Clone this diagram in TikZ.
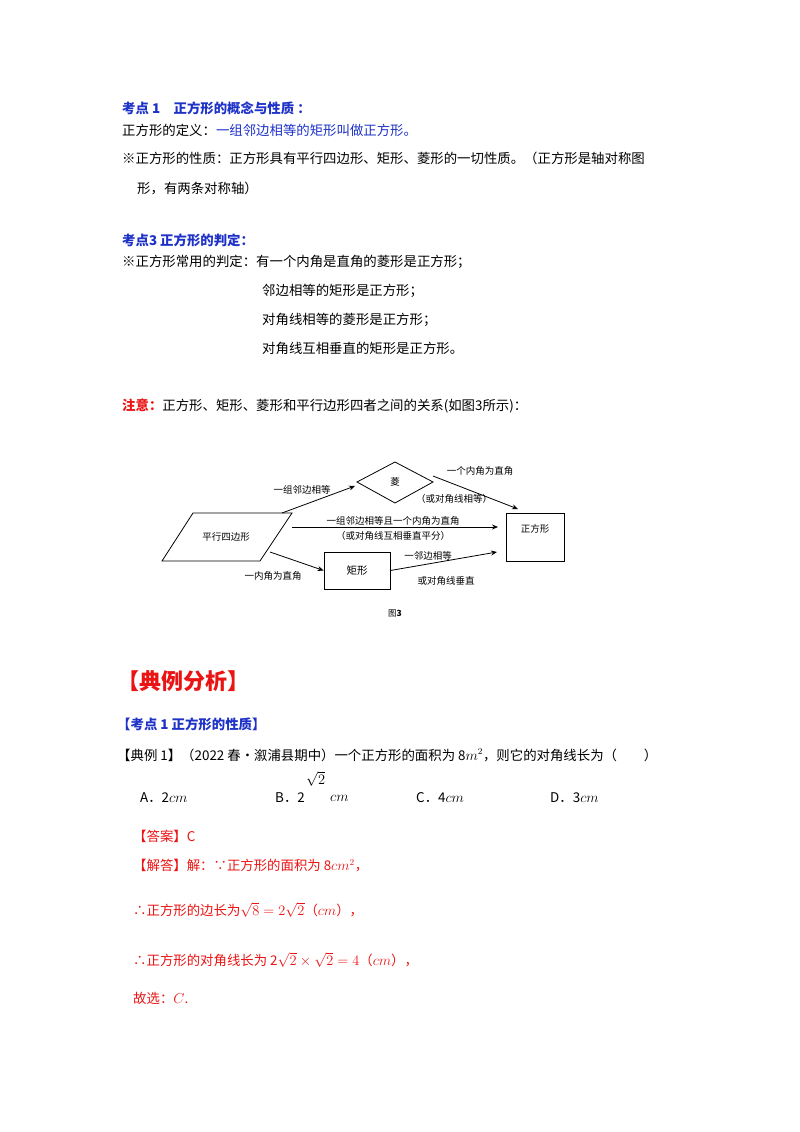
\documentclass[tikz,border=0pt]{standalone}
\usepackage{fontspec}
\setmainfont{Liberation Serif}
\newfontfamily\cjk{Noto Sans CJK SC}
\usetikzlibrary{shapes.geometric,arrows.meta}
\definecolor{hblue}{RGB}{30,50,200}
\definecolor{hred}{RGB}{235,20,20}
\begin{document}
\begin{tikzpicture}[x=1pt,y=-1pt,
  t/.style={anchor=west,inner sep=0pt,font=\cjk\fontsize{13.4}{15}\selectfont},
  d/.style={inner sep=0pt,font=\cjk\fontsize{9.5}{10}\selectfont},
  ar/.style={-{Stealth[length=6pt,width=5pt]},line width=0.8pt},
  bx/.style={draw,line width=0.8pt}]
\useasboundingbox[fill=white] (0,0) rectangle (800,1132);
\node[t,text=hblue,font=\cjk\bfseries\fontsize{13.4}{15}\selectfont] (h1) at (122,108) {考点\ 1\quad 正方形的概念与性质\ ：};
\node[t] (l1) at (122,130) {正方形的定义：\textcolor{hblue}{一组邻边相等的矩形叫做正方形。}};
\node[t] (l2) at (122,158) {※正方形的性质：正方形具有平行四边形、矩形、菱形的一切性质。（正方形是轴对称图};
\node[t] (l3) at (137,188) {形，有两条对称轴）};
\node[t,text=hblue,font=\cjk\bfseries\fontsize{13.4}{15}\selectfont] (h2) at (122,240) {考点3\ 正方形的判定：};
\node[t] (l4) at (122,262) {※正方形常用的判定：有一个内角是直角的菱形是正方形；};
\node[t] (l5) at (262,291) {邻边相等的矩形是正方形；};
\node[t] (l6) at (262,320) {对角线相等的菱形是正方形；};
\node[t] (l7) at (262,348) {对角线互相垂直的矩形是正方形。};
\node[t] (l8) at (122,406) {\textcolor{hred}{\bfseries 注意：}正方形、矩形、菱形和平行边形四者之间的关系(如图3所示)：};
% diagram
\draw[bx] (162,561) -- (193,513) -- (292,513) -- (260,561) -- cycle;
\node[d] (para) at (226,537) {平行四边形};
\coordinate (pt) at (282,513); \coordinate (pr) at (292,527); \coordinate (pb) at (270,552);
\draw[bx] (357,482) -- (395,462) -- (433,482) -- (395,503) -- cycle;
\node[d] (ling) at (395,482) {菱};
\coordinate (dl) at (355,486); \coordinate (dr) at (433,476);
\node[bx,minimum width=66pt,minimum height=37pt,inner sep=0pt,font=\cjk\fontsize{10.5}{11}\selectfont] (ju) at (357,570.5) {矩形};
\node[bx,minimum width=58pt,minimum height=48pt,inner sep=0pt,anchor=north west] (zf) at (506,513) {};
\node[d] (zft) at (535,529) {正方形};
\coordinate (s1) at (518,509); \coordinate (s2) at (498,527); \coordinate (s3) at (497,552);
\draw[ar] (pt) -- (dl);
\draw[ar] (dr) -- (s1);
\draw[ar] (pr) -- (s2);
\draw[ar] (pb) -- (ju.west);
\draw[ar] (ju.east) -- (s3);
\node[d] (a1) at (302,490) {一组邻边相等};
\node[d] (a2) at (480,471) {一个内角为直角};
\node[d] (a3) at (454,499) {（或对角线相等）};
\node[d] (a4) at (393,521) {一组邻边相等且一个内角为直角};
\node[d] (a5) at (393,536) {（或对角线互相垂直平分）};
\node[d] (a6) at (273,576) {一内角为直角};
\node[d] (a7) at (428,556) {一邻边相等};
\node[d] (a8) at (446,581) {或对角线垂直};
\node[d,font=\cjk\fontsize{8.5}{9}\selectfont] (fig) at (395,613) {图\textbf{3}};
% examples
\node[t,text=hred,font=\cjk\bfseries\fontsize{22}{24}\selectfont] (h3) at (117,681) {【典例分析】};
\node[t,text=hblue,font=\cjk\bfseries\fontsize{13.4}{15}\selectfont] (h4) at (117,724) {【考点\ 1\ 正方形的性质】};
\node[t] (q) at (117,755) {【典例 1】（2022 春•溆浦县期中）一个正方形的面积为 8$m^2$，则它的对角线长为（\qquad）};
\node[t] (oa) at (140,798) {A．2$cm$};
\node[t] (ob) at (275,798) {B．2};
\node[t] (obs) at (306,779) {$\sqrt{2}$};
\node[t] (obc) at (330,798) {$cm$};
\node[t] (oc) at (416,798) {C．4$cm$};
\node[t] (od) at (550,798) {D．3$cm$};
\node[t,text=hred] (ans) at (133,836) {【答案】C};
\node[t,text=hred] (s0) at (133,866) {【解答】解：∵正方形的面积为 8$cm^2$，};
\node[t,text=hred] (s4) at (133,910) {∴正方形的边长为$\sqrt{8}=2\sqrt{2}$（$cm$），};
\node[t,text=hred] (s5) at (133,960) {∴正方形的对角线长为 2$\sqrt{2}\times\sqrt{2}=4$（$cm$），};
\node[t,text=hred] (s6) at (133,998) {故选：$C$.};
\end{tikzpicture}
\end{document}
